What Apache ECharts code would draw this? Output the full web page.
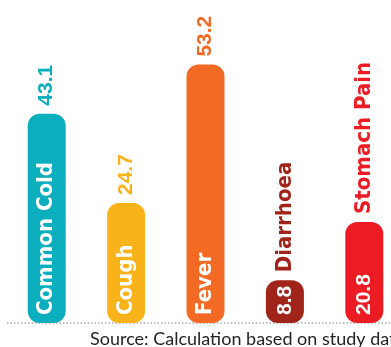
<!DOCTYPE html>
<html>
<head>
<meta charset="utf-8">
<script src="https://cdn.jsdelivr.net/npm/echarts@6/dist/echarts.min.js"></script>
<style>
html,body{margin:0;padding:0;background:#fff;}
#c{width:391px;height:347px;}
</style>
</head>
<body>
<div id="c"></div>
<script>
const categories = ['Common Cold', 'Cough', 'Fever', 'Diarrhoea', 'Stomach Pain'];
const values = [43.1, 24.7, 53.2, 8.8, 20.8];
const colors = ['#0AAEBD', '#F8B31B', '#F26A24', '#A0241A', '#EC1C24'];
const nameInside = [true, true, true, false, false];
const sourceText = 'Source: Calculation based on study data';

const nameFont = '"Liberation Sans Narrow", "DejaVu Sans Condensed", "Liberation Sans", sans-serif';
const valueFont = '"Liberation Sans", Arial, sans-serif';

function fontFor(isName) {
  return isName
    ? { fontFamily: nameFont, fontSize: 22, fontWeight: 'bold' }
    : { fontFamily: valueFont, fontSize: 21, fontWeight: 'bold' };
}

const barData = values.map((v, i) => ({
  value: v,
  itemStyle: { color: colors[i] },
  label: fontFor(nameInside[i])
}));
const topData = values.map((v, i) => ({
  value: v,
  label: Object.assign({ color: colors[i] }, fontFor(!nameInside[i]))
}));

const chart = echarts.init(document.getElementById('c'), null, { renderer: 'canvas' });
chart.setOption({
  animation: false,
  title: {
    text: sourceText,
    left: 90,
    top: 330,
    padding: 0,
    textStyle: { fontFamily: 'Lato, "Open Sans", sans-serif', fontSize: 18, fontWeight: 'normal', color: '#231F20' }
  },
  grid: { left: 7, right: -13, top: 0, bottom: 24, outerBoundsMode: 'none', containLabel: false },
  xAxis: {
    type: 'category',
    data: categories,
    axisTick: { show: false },
    axisLabel: { show: false },
    axisLine: { show: true, lineStyle: { color: '#aaaaaa', width: 1.5, type: [1.5, 2], cap: 'butt' } }
  },
  yAxis: { type: 'value', min: 0, max: 66.5, show: false, splitLine: { show: false } },
  series: [
    {
      type: 'bar',
      data: barData,
      barWidth: 38,
      itemStyle: { borderRadius: 12 },
      label: {
        show: true,
        position: 'insideBottom',
        distance: 8,
        rotate: 90,
        align: 'left',
        verticalAlign: 'middle',
        color: '#fff',
        formatter: p => nameInside[p.dataIndex] ? categories[p.dataIndex] : values[p.dataIndex].toFixed(1)
      },
      z: 2
    },
    {
      type: 'bar',
      data: topData,
      barWidth: 38,
      barGap: '-100%',
      silent: true,
      itemStyle: { color: 'rgba(0,0,0,0)' },
      label: {
        show: true,
        position: 'top',
        distance: 8,
        rotate: 90,
        align: 'left',
        verticalAlign: 'middle',
        formatter: p => nameInside[p.dataIndex] ? values[p.dataIndex].toFixed(1) : categories[p.dataIndex]
      },
      z: 3
    }
  ]
});
</script>
</body>
</html>
